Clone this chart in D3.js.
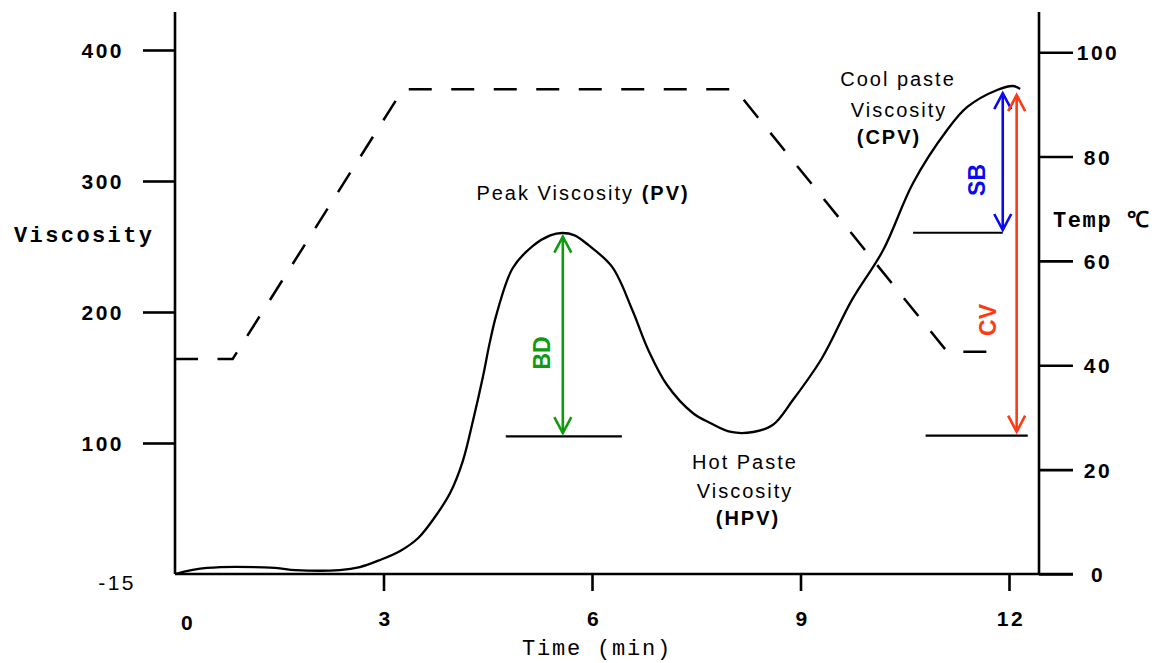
<!DOCTYPE html>
<html>
<head>
<meta charset="utf-8">
<script src="https://cdn.jsdelivr.net/npm/d3@7"></script>
<style>
  body { margin: 0; background: #fff; }
  svg { display: block; }
  .tick-label { font-family: "Liberation Sans", Arial, sans-serif; font-size: 21px; font-weight: bold; letter-spacing: 2.5px; fill: #000; }
  .mono { font-family: "Liberation Mono", "Courier New", monospace; fill: #000; }
  .note { font-family: "Liberation Sans", Arial, sans-serif; font-size: 20px; letter-spacing: 2px; fill: #000; }
  .tag { font-family: "Liberation Sans", Arial, sans-serif; font-size: 23px; font-weight: bold; }
</style>
</head>
<body>
<svg id="chart" width="1157" height="663"></svg>
<script>
// RVA pasting profile: viscosity curve (solid) and temperature program (dashed)
const timeMin = [0, 0.46, 1.44, 1.73, 2.37, 2.66, 2.95, 3.24, 3.5, 3.74, 3.96, 4.14, 4.29, 4.43, 4.53, 4.63, 4.86, 5.15, 5.4, 5.57, 5.75, 5.95, 6.29, 6.58, 6.81, 7.08, 7.45, 7.7, 8.0, 8.32, 8.6, 8.89, 9.31, 9.74, 10.19, 10.62, 11.11, 11.4, 11.83, 12.06, 12.16];
const viscosity = [0, 4.6, 4.6, 3, 3, 5.3, 10.7, 17.6, 27.5, 43.5, 62, 86, 117.6, 150.4, 177, 199, 233.6, 250.5, 258.5, 260.3, 258.5, 251, 234.4, 201.5, 171, 144.3, 122.9, 115.3, 108.4, 108.4, 113.7, 132.8, 164.9, 209.2, 247.3, 298.5, 338.9, 356.5, 369.5, 372.5, 370.2];

const tempTime = [0, 0.83, 3.28, 8.06, 11.11, 11.93];
const tempC = [41.2, 41.2, 92.9, 92.9, 42.6, 42.6];

const timeTicks = [3, 6, 9, 12];
const viscTicks = [100, 200, 300, 400];
const tempTicks = [0, 20, 40, 60, 80, 100];
const originTimeLabel = "0";
const originViscLabel = "-15";

// Horizontal guide lines (viscosity level, time span)
const guideLevel = [105, 260.5, 105.6];
const guideStart = [4.76, 10.62, 10.8];
const guideEnd = [6.43, 11.91, 12.27];

// Double-headed measurement arrows
const arrowNames = ["BD", "SB", "CV"];
const arrowTime = [5.58, 11.91, 12.11];
const arrowTop = [257.5, 367, 365.6];
const arrowBottom = [107.6, 262.6, 108.6];
const arrowColors = ["#109a10", "#0a0af0", "#ff3a12"];
const arrowLabelTime = [5.27, 11.53, 11.7];
const arrowLabelLevel = [168.7, 300.8, 193.9];

const svg = d3.select("#chart");

const x = d3.scaleLinear().domain([0, 12]).range([175, 1009]);
const y = d3.scaleLinear().domain([0, 429]).range([574, 12]);
const yT = d3.scaleLinear().domain([0, 107.7]).range([574, 12]);

const xRight = 1039;
const black = "#000";

// Axis frame lines
svg.append("line").attr("x1", x(0)).attr("x2", x(0)).attr("y1", y.range()[1]).attr("y2", y(0))
  .attr("stroke", black).attr("stroke-width", 2.6);
svg.append("line").attr("x1", xRight).attr("x2", xRight).attr("y1", yT.range()[1]).attr("y2", yT(0))
  .attr("stroke", black).attr("stroke-width", 2.6);
svg.append("line").attr("x1", x(0)).attr("x2", 1073).attr("y1", y(0)).attr("y2", y(0))
  .attr("stroke", black).attr("stroke-width", 2.6);

// Left viscosity axis
const gL = svg.append("g").attr("transform", `translate(${x(0)},0)`)
  .call(d3.axisLeft(y).tickValues(viscTicks).tickSize(32).tickPadding(0));
gL.select(".domain").remove();
gL.selectAll(".tick line").attr("stroke", black).attr("stroke-width", 2.6);
gL.selectAll(".tick text").attr("class", "tick-label").attr("x", -51).attr("dy", "0.36em")
  .attr("text-anchor", "end");

// Right temperature axis
const gR = svg.append("g").attr("transform", `translate(${xRight},0)`)
  .call(d3.axisRight(yT).tickValues(tempTicks).tickSize(34).tickPadding(0));
gR.select(".domain").remove();
gR.selectAll(".tick line").attr("stroke", black).attr("stroke-width", 2.6);
gR.selectAll(".tick text").attr("class", "tick-label").attr("x", 59).attr("dy", "0.36em")
  .attr("text-anchor", "middle");

// Bottom time axis
const gB = svg.append("g").attr("transform", `translate(0,${y(0)})`)
  .call(d3.axisBottom(x).tickValues(timeTicks).tickSize(17).tickPadding(0));
gB.select(".domain").remove();
gB.selectAll(".tick line").attr("stroke", black).attr("stroke-width", 2.6);
gB.selectAll(".tick text").attr("class", "tick-label").attr("y", 44).attr("dy", "0.36em")
  .attr("dx", 1.5).attr("text-anchor", "middle");

// Origin labels
svg.append("text").attr("class", "tick-label")
  .attr("x", x(0) + 13).attr("y", y(0) + 48).attr("dy", "0.36em").attr("text-anchor", "middle")
  .text(originTimeLabel);
svg.append("text").attr("class", "tick-label").style("font-weight", "normal")
  .attr("x", x(0) - 39).attr("y", y(0) + 8).attr("dy", "0.36em").attr("text-anchor", "end")
  .text(originViscLabel);

// Axis titles
svg.append("text").attr("class", "mono").attr("x", 14).attr("y", 242)
  .style("font-size", "22px").style("font-weight", "bold").style("letter-spacing", "2.4px")
  .text("Viscosity");
svg.append("text").attr("class", "mono").attr("x", 1053).attr("y", 227)
  .style("font-size", "22px").style("font-weight", "bold").style("letter-spacing", "1.6px")
  .text("Temp ℃");
svg.append("text").attr("class", "mono").attr("x", 597).attr("y", 655).attr("text-anchor", "middle")
  .style("font-size", "22px").style("letter-spacing", "1.8px")
  .text("Time (min)");

// Temperature program (dashed)
svg.append("path")
  .datum(tempTime.map((t, i) => [t, tempC[i]]))
  .attr("d", d3.line().x(d => x(d[0])).y(d => yT(d[1])))
  .attr("fill", "none").attr("stroke", black).attr("stroke-width", 2.5)
  .attr("stroke-dasharray", "23 19.5");

// Viscosity curve (solid)
svg.append("path")
  .datum(timeMin.map((t, i) => [t, viscosity[i]]))
  .attr("d", d3.line().x(d => x(d[0])).y(d => y(d[1])).curve(d3.curveCatmullRom.alpha(0.5)))
  .attr("fill", "none").attr("stroke", black).attr("stroke-width", 2.3)
  .attr("stroke-linejoin", "round");

// Guide lines
guideLevel.forEach((lv, i) => {
  svg.append("line").attr("x1", x(guideStart[i])).attr("x2", x(guideEnd[i]))
    .attr("y1", y(lv)).attr("y2", y(lv)).attr("stroke", black).attr("stroke-width", 2.2);
});

// Measurement arrows with open chevron heads
arrowNames.forEach((name, i) => {
  const ax = x(arrowTime[i]);
  const y1 = y(arrowTop[i]);
  const y2 = y(arrowBottom[i]);
  const g = svg.append("g").attr("stroke", arrowColors[i]).attr("stroke-width", 2.6).attr("fill", "none");
  g.append("line").attr("x1", ax).attr("x2", ax).attr("y1", y1).attr("y2", y2);
  g.append("path").attr("d", `M${ax - 8.5},${y1 + 16}L${ax},${y1}L${ax + 8.5},${y1 + 16}`);
  g.append("path").attr("d", `M${ax - 8.5},${y2 - 16}L${ax},${y2}L${ax + 8.5},${y2 - 16}`);
  const lx = x(arrowLabelTime[i]);
  const ly = y(arrowLabelLevel[i]);
  svg.append("text").attr("class", "tag").attr("fill", arrowColors[i])
    .attr("transform", `translate(${lx},${ly}) rotate(-90)`)
    .attr("text-anchor", "middle").attr("dy", "0.36em")
    .text(name);
});

// Annotation texts
function note(lines, cx, baselines) {
  lines.forEach((ln, i) => {
    const t = svg.append("text").attr("class", "note").attr("text-anchor", "middle")
      .attr("x", cx[i]).attr("y", baselines[i]);
    ln.forEach(part => {
      t.append("tspan").style("font-weight", part.b ? "bold" : "normal").text(part.s);
    });
  });
}
note([[{s: "Peak Viscosity "}, {s: "(PV)", b: true}]], [583], [200]);
note([[{s: "Hot  Paste"}], [{s: "Viscosity"}], [{s: "(HPV)", b: true}]], [745, 745, 748], [469, 498, 525]);
note([[{s: "Cool paste"}], [{s: "Viscosity"}], [{s: "(CPV)", b: true}]], [898, 899, 889], [86, 117, 144]);
</script>
</body>
</html>
